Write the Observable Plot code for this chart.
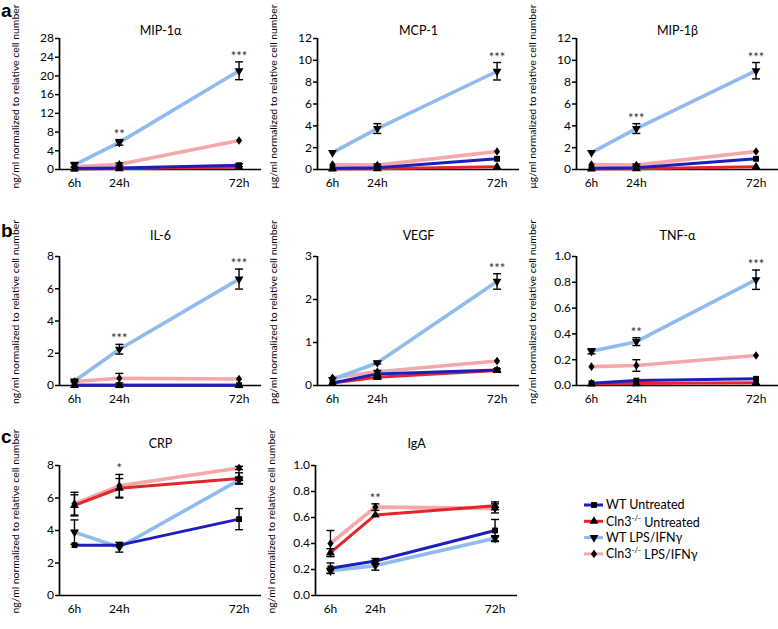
<!DOCTYPE html>
<html><head><meta charset="utf-8">
<script src="https://cdn.jsdelivr.net/npm/d3@7"></script>
<script src="https://cdn.jsdelivr.net/npm/@observablehq/plot@0.6"></script>
<style>
body{margin:0;background:#fff;}
#fig{position:relative;width:778px;height:629px;overflow:hidden;font-family:Lato,"Open Sans",sans-serif;background:#fff;}
#fig > svg{position:absolute;}
</style></head><body><div id="fig"></div>
<script>
// ---------- data ----------
const times = [6, 24, 72];
const groups = ["WT Untreated", "Cln3-/- Untreated", "WT LPS/IFNγ", "Cln3-/- LPS/IFNγ"];

// rows follow `groups`; columns follow `times`
const mip1aMean = [[0.2,0.3,0.9],[0.1,0.2,0.5],[1.0,5.8,21.1],[0.6,1.1,6.2]];
const mip1aErr  = [[0,0,0.3],[0,0,0],[0.5,0.6,1.9],[0,0.3,0]];
const mip1aStars = ["", "**", "***"];

const mcp1Mean = [[0.12,0.15,0.98],[0.05,0.08,0.25],[1.55,3.75,9.0],[0.45,0.4,1.65]];
const mcp1Err  = [[0,0,0],[0,0,0],[0,0.45,0.8],[0,0.1,0]];
const mcp1Stars = ["", "", "***"];

const mip1bMean = [[0.12,0.15,0.98],[0.05,0.08,0.25],[1.55,3.75,9.05],[0.45,0.4,1.65]];
const mip1bErr  = [[0,0,0],[0,0,0],[0,0.45,0.75],[0,0.1,0]];
const mip1bStars = ["", "***", "***"];

const il6Mean = [[0.02,0.02,0.02],[0.01,0.01,0.01],[0.28,2.25,6.6],[0.25,0.45,0.4]];
const il6Err  = [[0,0,0],[0,0,0],[0.05,0.3,0.62],[0,0.3,0]];
const il6Stars = ["", "***", "***"];

const vegfMean = [[0.06,0.27,0.36],[0.06,0.19,0.35],[0.14,0.53,2.42],[0.18,0.32,0.57]];
const vegfErr  = [[0,0.08,0.03],[0,0.03,0],[0,0.03,0.18],[0,0,0]];
const vegfStars = ["", "", "***"];

const tnfaMean = [[0.018,0.038,0.052],[0.012,0.015,0.022],[0.265,0.34,0.82],[0.146,0.155,0.232]];
const tnfaErr  = [[0,0,0],[0,0,0],[0.02,0.03,0.075],[0,0.045,0]];
const tnfaStars = ["", "**", "***"];

const crpMean = [[3.1,3.1,4.7],[5.55,6.6,7.2],[3.9,2.97,7.1],[5.65,6.75,7.85]];
const crpErr  = [[0,0,0.65],[0.65,0.6,0.35],[0.75,0.3,0.2],[0.7,0.7,0.1]];
const crpStars = ["", "*", ""];

const igaMean = [[0.21,0.265,0.5],[0.33,0.62,0.69],[0.19,0.23,0.44],[0.40,0.68,0.67]];
const igaErr  = [[0.04,0.02,0.085],[0.03,0,0.03],[0.02,0.035,0.02],[0.1,0.025,0.035]];
const igaStars = ["", "**", ""];

// ---------- style ----------
const groupColors = ["#1e1ebe", "#e3262b", "#8fbbee", "#f5a7aa"];
const groupWidths = [3, 3, 3.6, 3.6];
const drawOrder = [3, 2, 1, 0];
const symTriDown = {draw(ctx, size){ const a=Math.sqrt(size*4/Math.sqrt(3)); const h=a*Math.sqrt(3)/2; ctx.moveTo(-a/2,-h/3); ctx.lineTo(a/2,-h/3); ctx.lineTo(0,2*h/3); ctx.closePath(); }};
const symTriUp = {draw(ctx, size){ const a=Math.sqrt(size*4/Math.sqrt(3)); const h=a*Math.sqrt(3)/2; ctx.moveTo(-a/2,h/3); ctx.lineTo(a/2,h/3); ctx.lineTo(0,-2*h/3); ctx.closePath(); }};
const symDiamond = {draw(ctx, size){ const w=Math.sqrt(size/0.7); const h=1.4*w; ctx.moveTo(0,-h/2); ctx.lineTo(w/2,0); ctx.lineTo(0,h/2); ctx.lineTo(-w/2,0); ctx.closePath(); }};
const symCap = {draw(ctx, size){ const r=Math.sqrt(size)/2; ctx.moveTo(-r,0); ctx.lineTo(r,0); }};
const groupSymbols = [d3.symbolSquare, symTriUp, symTriDown, symDiamond];
const groupR = [3.3, 3.3, 3.3, 2.9];

const rows = [
  {svgTop: 0,   plotTop: 38,  plotBottom: 169, titleDy: -7.5, labelDy: -7.5},
  {svgTop: 200, plotTop: 256, plotBottom: 385, titleDy: -21, labelDy: -9},
  {svgTop: 415, plotTop: 465, plotBottom: 595, titleDy: -22, labelDy: -9}
];
const panels = [
  {title:"MIP-1α", unit:"ng/ml", mean:mip1aMean, err:mip1aErr, stars:mip1aStars, ymax:28, step:4, fmt:"d", axis:59, row:0},
  {title:"MCP-1", unit:"μg/ml", mean:mcp1Mean, err:mcp1Err, stars:mcp1Stars, ymax:12, step:2, fmt:"d", axis:317, row:0},
  {title:"MIP-1β", unit:"μg/ml", mean:mip1bMean, err:mip1bErr, stars:mip1bStars, ymax:12, step:2, fmt:"d", axis:576, row:0},
  {title:"IL-6", unit:"ng/ml", mean:il6Mean, err:il6Err, stars:il6Stars, ymax:8, step:2, fmt:"d", axis:59, row:1},
  {title:"VEGF", unit:"pg/ml", mean:vegfMean, err:vegfErr, stars:vegfStars, ymax:3, step:1, fmt:"d", axis:317, row:1},
  {title:"TNF-α", unit:"ng/ml", mean:tnfaMean, err:tnfaErr, stars:tnfaStars, ymax:1, step:0.2, fmt:".1f", axis:576, row:1},
  {title:"CRP", unit:"ng/ml", mean:crpMean, err:crpErr, stars:crpStars, ymax:8, step:2, fmt:"d", axis:59, row:2},
  {title:"IgA", unit:"ng/ml", mean:igaMean, err:igaErr, stars:igaStars, ymax:1, step:0.2, fmt:".1f", axis:315, row:2}
];

const ML = 58, MR = 2, PW = 202, LABEL_LEN = 184;
const LABEL_SUFFIX = " normalized to relative cell number";
const fig = d3.select("#fig");

for (const p of panels) {
  const r = rows[p.row];
  const MT = r.plotTop - r.svgTop, PH = r.plotBottom - r.plotTop;
  const MB = (p.row === 2 ? 629 : rows[p.row + 1].svgTop) - r.plotBottom;
  const data = [];
  for (const g of drawOrder) p.mean[g].forEach((v, i) => data.push({group: groups[g], g, t: times[i], v, e: p.err[g][i]}));
  const errData = data.filter(d => d.e > 0);
  const starData = p.stars.map((s, i) => ({t: times[i], s, top: d3.max(data.filter(d => d.t === times[i]), d => d.v + d.e)})).filter(d => d.s);
  const yticks = d3.range(0, p.ymax + p.step / 2, p.step).map(v => +v.toFixed(3));
  const marks = [
    Plot.ruleX([0], {stroke: "black", strokeWidth: 1.7}),
    Plot.ruleY([0], {stroke: "black", strokeWidth: 1.7}),
    Plot.axisY({ticks: yticks, tickFormat: d3.format(p.fmt), tickSize: 4, tickPadding: 1.5, strokeWidth: 1.5, fontSize: 12, label: null}),
    Plot.axisX({ticks: times, tickFormat: d => d + "h", tickSize: 0, tickPadding: 9, fontSize: 12, label: null}),
    ...drawOrder.map(g => Plot.line(data.filter(d => d.g === g), {x: "t", y: "v", stroke: "group", strokeWidth: groupWidths[g]})),
    Plot.ruleX(errData, {x: "t", y1: d => d.v - d.e, y2: d => d.v + d.e, stroke: "black", strokeWidth: 1.4}),
    Plot.dot(errData, {x: "t", y: d => d.v + d.e, symbol: symCap, r: 4.5, stroke: "black", strokeWidth: 1.4, fill: "none"}),
    Plot.dot(errData, {x: "t", y: d => d.v - d.e, symbol: symCap, r: 4.5, stroke: "black", strokeWidth: 1.4, fill: "none"}),
    ...drawOrder.map(g => Plot.dot(data.filter(d => d.g === g), {x: "t", y: "v", symbol: groupSymbols[g], r: groupR[g], fill: "black", stroke: "none"})),
    Plot.text(starData, {x: "t", y: "top", text: "s", lineAnchor: "bottom", dy: -1, fontSize: 13, fill: "#333"}),
    Plot.text([p.title], {frameAnchor: "top", text: d => d, dy: r.titleDy, lineAnchor: "middle", textAnchor: "middle", fontSize: 12.5, fill: "black"}),
    Plot.text([p.unit + LABEL_SUFFIX], {frameAnchor: "left", text: d => d, rotate: -90, textAnchor: "middle", lineAnchor: "middle", dx: -44, dy: r.labelDy, fontSize: 11, fill: "black"})
  ];
  const svg = Plot.plot({
    width: ML + PW + MR, height: MT + PH + MB,
    marginLeft: ML, marginRight: MR, marginTop: MT, marginBottom: MB,
    style: {fontFamily: "Lato, 'Open Sans', sans-serif", color: "black", background: "transparent", overflow: "visible"},
    x: {domain: [0, 81]},
    y: {domain: [0, p.ymax]},
    color: {domain: groups, range: groupColors},
    marks
  });
  svg.style.left = (p.axis - ML) + "px";
  svg.style.top = r.svgTop + "px";
  fig.node().appendChild(svg);
  // fit the rotated axis label to the length it has in the figure
  svg.querySelectorAll("text").forEach(text => {
    if (!text.textContent.includes(LABEL_SUFFIX.trim())) return;
    const len = text.getComputedTextLength();
    const fs = parseFloat(getComputedStyle(text).fontSize);
    if (len > 0 && fs > 0) text.setAttribute("font-size", (fs * LABEL_LEN / len).toFixed(2));
  });
}

// ---------- overlay: panel letters and legend ----------
const ov = fig.append("svg").attr("width", 778).attr("height", 629).style("left", "0px").style("top", "0px").style("pointer-events", "none");
const letters = [{t: "a", y: 17}, {t: "b", y: 237}, {t: "c", y: 443}];
for (const l of letters) ov.append("text").attr("x", 1).attr("y", l.y).attr("font-family", "'Liberation Sans', Arial, sans-serif").attr("font-weight", "bold").attr("font-size", 19).text(l.t);

const legX = 584, legY0 = 505, legDY = 16.3;
groups.forEach((name, i) => {
  const y = legY0 + i * legDY;
  ov.append("line").attr("x1", legX).attr("x2", legX + 19).attr("y1", y).attr("y2", y).attr("stroke", groupColors[i]).attr("stroke-width", 3);
  ov.append("path").attr("d", d3.symbol(groupSymbols[i], Math.PI * groupR[i] ** 2)()).attr("transform", `translate(${legX + 10},${y})`).attr("fill", "black");
  const t = ov.append("text").attr("x", legX + 22).attr("y", y).attr("dy", "0.35em").attr("font-family", "Lato, 'Open Sans', sans-serif").attr("font-size", 12.5);
  const m = name.match(/^(.*?)(-\/-)(.*)$/);
  if (m) {
    t.append("tspan").text(m[1]);
    t.append("tspan").attr("font-size", 8).attr("dy", "-0.6em").text(m[2]);
    t.append("tspan").attr("dy", "0.45em").text(m[3]);
  } else t.text(name);
});
</script></body></html>
